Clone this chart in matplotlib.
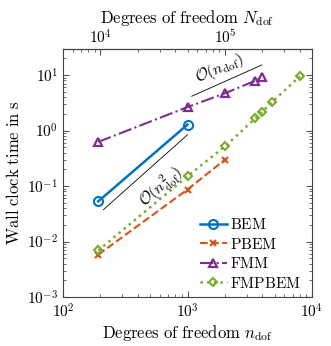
import matplotlib
matplotlib.use("Agg")
import matplotlib.pyplot as plt
from matplotlib.ticker import FuncFormatter, FixedLocator, NullFormatter
import numpy as np

plt.rcParams['mathtext.fontset'] = 'cm'
plt.rcParams['font.family'] = 'serif'
plt.rcParams['font.serif'] = ['DejaVu Serif']

# data
n_bem = [192, 1000]
t_bem = [0.053, 1.28]
n_pbem = [192, 1000, 2000]
t_pbem = [0.0058, 0.0865, 0.30]
n_fmm = [192, 1000, 2000, 3500, 4000]
t_fmm = [0.625, 2.65, 4.7, 7.9, 9.3]
n_fmpbem = [192, 1000, 2000, 3500, 4000, 4800, 8000]
t_fmpbem = [0.0069, 0.150, 0.52, 1.65, 2.2, 3.3, 9.5]

ref2_n = [211, 1000]
ref2_t = [0.0375, 0.84]
ref1_n = [1080, 3950]
ref1_t = [4.15, 15.2]

top_ticks = [1e4, 1e5]

blue = '#0072BD'
orange = '#D95319'
purple = '#7E2F8E'
green = '#77AC30'

fig = plt.figure(figsize=(3.31, 3.46), dpi=100)
ax = fig.add_axes([63/331, 1-297/346, (312-63)/331, (297-49)/346])
ax.set_xscale('log')
ax.set_yscale('log')
ax.set_xlim(1e2, 1e4)
ax.set_ylim(1e-3, 10**1.47)

ax.plot(n_bem, t_bem, '-', color=blue, lw=1.8, marker='o', ms=6.5, mfc='none', mew=1.5, label='BEM')
ax.plot(n_pbem, t_pbem, '--', color=orange, lw=1.5, marker='x', ms=5, mew=1.5, label='PBEM')
ax.plot(n_fmm, t_fmm, '-.', color=purple, lw=1.5, marker='^', ms=5.5, mfc='none', mew=1.6, label='FMM')
ax.plot(n_fmpbem, t_fmpbem, ':', color=green, lw=1.8, marker='D', ms=4.5, mfc='none', mew=1.5, label='FMPBEM')

ax.plot(ref2_n, ref2_t, '-', color='black', lw=0.6)
ax.plot(ref1_n, ref1_t, '-', color='black', lw=0.6)

ax.text(161, 346-187, r'$\mathcal{O}(n_{\mathrm{dof}}^2)$', transform=None, fontsize=11.5,
        rotation=41, ha='center', va='center')
ax.text(220, 346-69, r'$\mathcal{O}(n_{\mathrm{dof}})$', transform=None, fontsize=11.5,
        rotation=23, ha='center', va='center')

fmt = FuncFormatter(lambda v, p: r'$10^{%d}$' % int(round(np.log10(v))))

ax.set_xlabel(r'$\mathrm{Degrees\ of\ freedom}\ n_{\mathrm{dof}}$', fontsize=12, labelpad=2)
ax.set_ylabel(r'$\mathrm{Wall\ clock\ time\ in\ s}$', fontsize=12, labelpad=3)
ax.xaxis.set_major_formatter(fmt)
ax.yaxis.set_major_formatter(fmt)

ax.tick_params(which='both', direction='in', top=False, right=True, colors='#555555', labelcolor='black', labelsize=11)
ax.tick_params(which='major', length=4)
ax.tick_params(which='minor', length=2)
ax.tick_params(axis='x', pad=4)
for s in ax.spines.values():
    s.set_color('#444444')

sec = ax.secondary_xaxis('top', functions=(lambda x: x*50, lambda x: x/50))
sec.set_xlabel(r'$\mathrm{Degrees\ of\ freedom}\ N_{\mathrm{dof}}$', fontsize=12, labelpad=4)
sec.xaxis.set_major_locator(FixedLocator(top_ticks))
sec.xaxis.set_major_formatter(fmt)
sec.xaxis.set_minor_formatter(NullFormatter())
sec.tick_params(which='both', direction='in', colors='#555555', labelcolor='black', labelsize=11, pad=2)
sec.tick_params(which='major', length=4)
sec.tick_params(which='minor', length=2)

leg = ax.legend(loc='lower right', bbox_to_anchor=(0.955, 0.025), frameon=False, fontsize=11,
                handlelength=1.75, labelspacing=0.3, borderaxespad=0, borderpad=0,
                handletextpad=0.2)
for t in leg.get_texts():
    t.set_text(r'$\mathrm{' + t.get_text() + '}$')

fig.savefig('out.png', dpi=100)
